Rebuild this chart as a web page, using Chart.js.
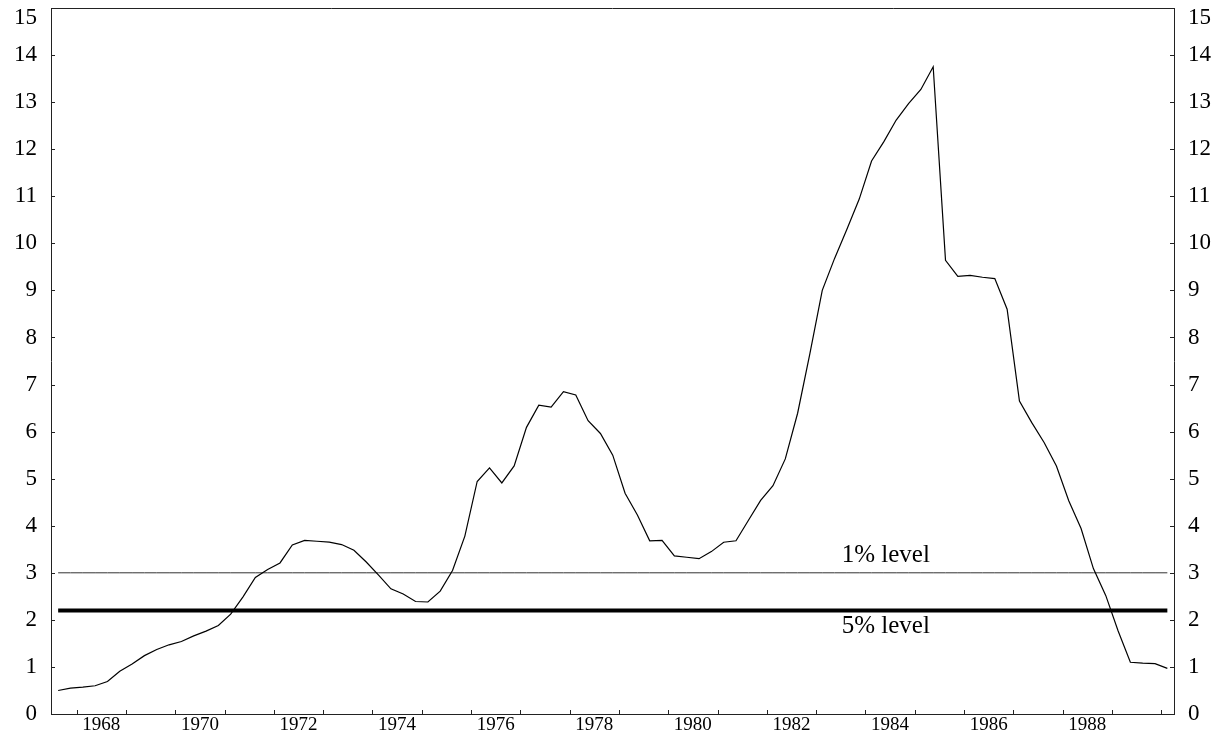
<!DOCTYPE html>
<html><head><meta charset="utf-8">
<script src="https://cdn.jsdelivr.net/npm/chart.js@4/dist/chart.umd.min.js"></script>
<style>html,body{margin:0;padding:0;background:#fff}#wrap{width:1226px;height:736px;position:relative}</style>
</head><body><div id="wrap"><canvas id="c"></canvas></div>
<script>
// Quarterly series, 1967Q3 .. 1990Q1
const startYear = 1967;
const startQuarter = 3;
const statValues = [
  0.50, 0.55, 0.57, 0.60, 0.69, 0.91, 1.06, 1.24, 1.37, 1.47,
  1.54, 1.66, 1.76, 1.88, 2.12, 2.49, 2.90, 3.07, 3.21, 3.59,
  3.69, 3.67, 3.65, 3.60, 3.48, 3.23, 2.95, 2.66, 2.55, 2.39,
  2.38, 2.61, 3.05, 3.78, 4.94, 5.23, 4.91, 5.27, 6.09, 6.56,
  6.52, 6.85, 6.78, 6.23, 5.96, 5.50, 4.69, 4.23, 3.68, 3.69,
  3.36, 3.33, 3.30, 3.45, 3.65, 3.68, 4.11, 4.54, 4.85, 5.42,
  6.39, 7.66, 9.00, 9.68, 10.30, 10.94, 11.75, 12.16, 12.62, 12.97,
  13.27, 13.75, 9.64, 9.30, 9.32, 9.28, 9.25, 8.60, 6.65, 6.19,
  5.77, 5.27, 4.53, 3.94, 3.09, 2.52, 1.77, 1.10, 1.08, 1.07,
  0.97
];
const level1pct = 3.0;
const level5pct = 2.2;
const levelLabels = ['1% level', '5% level'];
const yearTickLabels = ['1968','1970','1972','1974','1976','1978','1980','1982','1984','1986','1988'];
const yTickValues = [0,1,2,3,4,5,6,7,8,9,10,11,12,13,14,15];
const yTopValue = 15;

// quarter category -> decimal time (centre of quarter)
const quarters = statValues.map((_, i) => {
  const q = startQuarter - 1 + i;
  return { year: startYear + Math.floor(q / 4), q: (q % 4) + 1 };
});
const qTime = quarters.map(o => o.year + (o.q - 1) / 4 + 0.125);

const xMin = 1967.48, xMax = 1990.26;

const mainData = statValues.map((v, i) => ({ x: qTime[i], y: v }));
const l1Data = qTime.map(t => ({ x: t, y: level1pct }));
const l5Data = qTime.map(t => ({ x: t, y: level5pct }));

const SERIF = '"Liberation Serif", "Times New Roman", serif';
const Y_FONT = 23, X_FONT = 19, LAB_PAD = 14;

const framePlugin = {
  id: 'frame',
  afterDatasetsDraw(chart) {
    const { ctx, chartArea: a, scales } = chart;
    ctx.save();
    ctx.strokeStyle = '#222';
    ctx.lineWidth = 1;
    ctx.beginPath();
    ctx.moveTo(a.left, a.top + 0.5); ctx.lineTo(a.right, a.top + 0.5);
    const tl = 4;
    scales.y.ticks.forEach(t => {
      const py = Math.round(scales.y.getPixelForValue(t.value)) + 0.5;
      ctx.moveTo(a.left, py); ctx.lineTo(a.left + tl, py);
      ctx.moveTo(a.right, py); ctx.lineTo(a.right - tl, py);
    });
    for (let yr = Math.ceil(xMin); yr <= Math.floor(xMax); yr++) {
      const px = Math.round(scales.x.getPixelForValue(yr)) + 0.5;
      ctx.moveTo(px, a.bottom); ctx.lineTo(px, a.bottom - tl);
    }
    ctx.stroke();
    ctx.fillStyle = '#000';
    // top tick label, nudged inside the canvas
    ctx.font = Y_FONT + 'px ' + SERIF;
    ctx.textBaseline = 'middle';
    const topY = scales.y.getPixelForValue(yTopValue) + 10;
    ctx.textAlign = 'right';
    ctx.fillText(String(yTopValue), a.left - LAB_PAD, topY);
    ctx.textAlign = 'left';
    ctx.fillText(String(yTopValue), a.right + LAB_PAD, topY);
    // level annotations
    ctx.font = '25px ' + SERIF;
    ctx.textAlign = 'left';
    ctx.textBaseline = 'alphabetic';
    const tx = scales.x.getPixelForValue(1983.52);
    ctx.fillText(levelLabels[0], tx, scales.y.getPixelForValue(3.24));
    ctx.fillText(levelLabels[1], tx, scales.y.getPixelForValue(1.73));
    ctx.restore();
  }
};

const zeroPad = s => { s.paddingTop = 0; s.paddingBottom = 0; s.paddingLeft = 0; s.paddingRight = 0; };

const yAxisCommon = {
  type: 'linear', min: 0, max: 15,
  grid: { display: false, drawTicks: false },
  border: { display: true, color: '#222', width: 1 },
  afterBuildTicks: s => { s.ticks = yTickValues.map(v => ({ value: v })); },
  ticks: {
    padding: LAB_PAD, color: '#000', font: { family: SERIF, size: Y_FONT },
    callback: v => (v === yTopValue ? '' : String(v))
  }
};

new Chart(document.getElementById('c'), {
  type: 'line',
  data: {
    datasets: [
      { data: mainData, borderColor: '#000', borderWidth: 1.2, pointRadius: 0, tension: 0, order: 0 },
      { data: l1Data, borderColor: '#333', borderWidth: 1, pointRadius: 0, tension: 0, order: 2 },
      { data: l5Data, borderColor: '#000', borderWidth: 4, pointRadius: 0, tension: 0, order: 1 }
    ]
  },
  options: {
    responsive: true, maintainAspectRatio: false, animation: false,
    layout: { padding: { top: 8, left: 0, right: 0, bottom: 0 } },
    plugins: { legend: { display: false }, tooltip: { enabled: false } },
    scales: {
      x: {
        type: 'linear', min: xMin, max: xMax,
        grid: { display: false, drawTicks: false },
        border: { display: true, color: '#222', width: 1 },
        afterBuildTicks: s => { s.ticks = yearTickLabels.map(y => ({ value: Number(y) + 0.5 })); },
        afterFit: s => { s.height = 22; zeroPad(s); },
        ticks: {
          autoSkip: false, maxRotation: 0, padding: 0, color: '#000',
          font: { family: SERIF, size: X_FONT },
          callback: v => String(Math.floor(v))
        }
      },
      y: Object.assign({}, yAxisCommon, { position: 'left', afterFit: s => { s.width = 51; zeroPad(s); } }),
      y2: Object.assign({}, yAxisCommon, { position: 'right', afterFit: s => { s.width = 52; zeroPad(s); } })
    }
  },
  plugins: [framePlugin]
});
</script>
</body></html>
